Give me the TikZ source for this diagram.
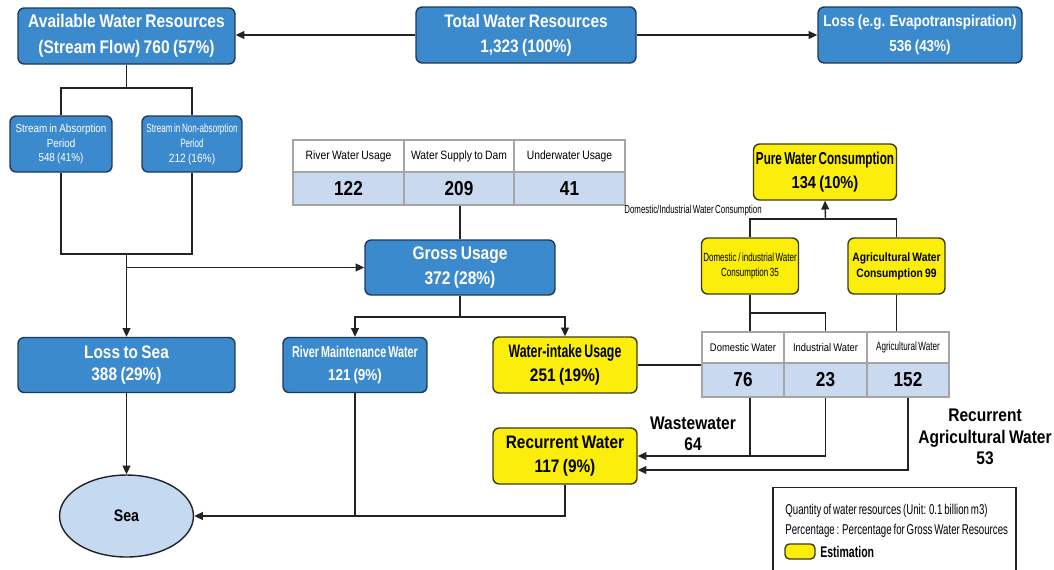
\documentclass[tikz,border=0pt]{standalone}
\usepackage{fontspec}
\setmainfont{Liberation Sans}
\newfontfamily\fB{Liberation Sans}[FakeStretch=0.85,WordSpace=0.8]
\newfontfamily\fC{Liberation Sans}[FakeStretch=0.68,WordSpace=0.7]
\usetikzlibrary{arrows.meta,shapes.geometric,calc}
\definecolor{blueF}{RGB}{60,138,206}
\definecolor{blueD}{RGB}{30,58,88}
\definecolor{yellowF}{RGB}{250,238,10}
\definecolor{yellowD}{RGB}{60,60,20}
\definecolor{tblue}{RGB}{201,218,240}
\definecolor{tgray}{RGB}{165,165,165}
\definecolor{seaF}{RGB}{197,217,241}
\definecolor{lineC}{RGB}{35,35,35}
\tikzset{
  rB/.style 2 args={font=\fB\fontsize{#1}{#2}\selectfont},
  rC/.style 2 args={font=\fC\fontsize{#1}{#2}\selectfont},
  bB/.style 2 args={font=\fB\bfseries\fontsize{#1}{#2}\selectfont},
  bC/.style 2 args={font=\fC\bfseries\fontsize{#1}{#2}\selectfont},
  bluebox/.style={draw=blueD, fill=blueF, rounded corners=3.5pt, line width=0.8pt, text=white, align=center, inner sep=0pt},
  ybox/.style={draw=yellowD, fill=yellowF, rounded corners=3.5pt, line width=0.8pt, text=black, align=center, inner sep=0pt},
  cellh/.style={draw=tgray, fill=white, line width=0.6pt, inner sep=0pt, align=center},
  cellv/.style={draw=tgray, fill=tblue, line width=0.6pt, inner sep=0pt, align=center},
  conn/.style={draw=lineC, line width=0.8pt},
  arr/.style={conn, -{Triangle[length=5pt,width=4.5pt]}},
  lbl/.style={inner sep=0pt, align=center, text=black},
}
\begin{document}
\begin{tikzpicture}[x=0.02cm,y=-0.02cm]
\useasboundingbox[fill=white] (0,0) rectangle (1054,569);

% top row
\node[bluebox, minimum width=4.34cm, minimum height=1.12cm, bB={10.4}{14.7}] (avail) at (126.5,36) {Available Water Resources\\(Stream Flow) 760 (57\%)};
\node[bluebox, minimum width=4.4cm, minimum height=1.12cm, bB={10.3}{14.2}] (total) at (526,35) {Total Water Resources\\1,323 (100\%)};
\node[bluebox, minimum width=4.08cm, minimum height=1.12cm, bB={9}{14.2}] (loss) at (920,35) {Loss (e.g. Evapotranspiration)\\536 (43\%)};

% stream boxes
\node[bluebox, minimum width=2.04cm, minimum height=1.12cm, rB={6.6}{8.5}] (sabs) at (61,144) {Stream in Absorption\\Period\\548 (41\%)};
\node[bluebox, minimum width=2.0cm, minimum height=1.12cm, rC={6.8}{8.5}] (snon) at (192,144) {Stream in Non-absorption\\Period\\{\fB 212 (16\%)}};

% table 1
\node[cellh, minimum width=2.22cm, minimum height=0.64cm, rB={6.9}{8}] (t1h1) at (348.5,156) {River Water Usage};
\node[cellh, minimum width=2.2cm, minimum height=0.64cm, rB={6.9}{8}] (t1h2) at (459,156) {Water Supply to Dam};
\node[cellh, minimum width=2.22cm, minimum height=0.64cm, rB={6.9}{8}] (t1h3) at (569.5,156) {Underwater Usage};
\node[cellv, minimum width=2.22cm, minimum height=0.66cm, bB={11.5}{13}] (t1v1) at (348.5,188.5) {122};
\node[cellv, minimum width=2.2cm, minimum height=0.66cm, bB={11.5}{13}] (t1v2) at (459,188.5) {209};
\node[cellv, minimum width=2.22cm, minimum height=0.66cm, bB={11.5}{13}] (t1v3) at (569.5,188.5) {41};

% gross usage
\node[bluebox, minimum width=3.8cm, minimum height=1.1cm, bB={10.4}{14.7}] (gross) at (460,267.5) {Gross Usage\\372 (28\%)};

% middle row
\node[bluebox, minimum width=4.34cm, minimum height=1.1cm, bB={10.3}{13}] (losssea) at (126.5,365) {Loss to Sea\\388 (29\%)};
\node[bluebox, minimum width=2.88cm, minimum height=1.1cm, bC={9}{13}] (rmw) at (355,365) {River Maintenance Water\\{\fB 121 (9\%)}};
\node[ybox, minimum width=2.88cm, minimum height=1.12cm, bC={10.3}{14}] (wiu) at (565,365) {Water-intake Usage\\{\fB 251 (19\%)}};
\node[ybox, minimum width=2.88cm, minimum height=1.12cm, bB={10.3}{13.6}] (rec) at (565,456) {Recurrent Water\\117 (9\%)};

% consumption
\node[ybox, minimum width=2.86cm, minimum height=1.12cm, bC={9.8}{14}] (pure) at (825,172) {Pure Water Consumption\\{\fB 134 (10\%)}};
\node[ybox, minimum width=1.94cm, minimum height=1.12cm, rC={6.7}{9}] (dic) at (750,266) {Domestic / industrial Water\\Consumption 35};
\node[ybox, minimum width=1.94cm, minimum height=1.12cm, bB={6.9}{9}] (awc) at (896.5,266) {Agricultural Water\\Consumption 99};

% table 2
\node[cellh, minimum width=1.64cm, minimum height=0.62cm, rB={6.3}{8}] (t2h1) at (743,347.5) {Domestic Water};
\node[cellh, minimum width=1.66cm, minimum height=0.62cm, rB={6.3}{8}] (t2h2) at (825.5,347.5) {Industrial Water};
\node[cellh, minimum width=1.64cm, minimum height=0.62cm, rC={6.8}{8}] (t2h3) at (908,347.5) {Agricultural Water};
\node[cellv, minimum width=1.64cm, minimum height=0.68cm, bB={11.5}{13}] (t2v1) at (743,380) {76};
\node[cellv, minimum width=1.66cm, minimum height=0.68cm, bB={11.5}{13}] (t2v2) at (825.5,380) {23};
\node[cellv, minimum width=1.64cm, minimum height=0.68cm, bB={11.5}{13}] (t2v3) at (908,380) {152};

% sea
\node[ellipse, draw=lineC, fill=seaF, line width=0.8pt, minimum width=2.68cm, minimum height=1.64cm, inner sep=0pt, bB={9.5}{11}] (sea) at (126.5,516) {Sea};

% labels
\node[lbl, rC={6.6}{8}] (dilabel) at (693,210) {Domestic/Industrial Water Consumption};
\node[lbl, bB={10.4}{12}] (wwlabel) at (693,434) {Wastewater\\64};
\node[lbl, bB={10.4}{12.4}] (ralabel) at (985,437) {Recurrent\\Agricultural Water\\53};

% legend
\node[draw=lineC, fill=white, line width=0.8pt, minimum width=4.86cm, minimum height=2.1cm, inner sep=0pt] (legend) at (894.5,540) {};
\node[lbl, anchor=west, rC={8.1}{10}] (lg1) at (785,511) {Quantity of water resources (Unit: 0.1 billion m3)};
\node[lbl, anchor=west, rC={8.1}{10}] (lg2) at (785,531) {Percentage : Percentage for Gross Water Resources};
\node[ybox, minimum width=0.6cm, minimum height=0.3cm, rounded corners=2.5pt] (lgbox) at (800,551.5) {};
\node[lbl, anchor=west, bC={8.8}{10}] (lg3) at (820,551.5) {Estimation};

% connectors
\draw[arr] (total.west) -- (total.west -| avail.east);
\draw[arr] (total.east) -- (loss.west);

\coordinate (j1) at (126.5,88);
\draw[conn] (avail.south) -- (j1);
\draw[conn] (sabs.north) |- (j1) -| (snon.north);

\coordinate (j2) at (126.5,254);
\draw[conn] (sabs.south) |- (j2) -| (snon.south);
\draw[arr] (j2) -- (losssea.north);
\coordinate (j3) at (126.5,267.5);
\draw[arr] (j3) -- (gross.west);

\draw[conn] (t1v2.south -| gross.north) -- (gross.north);
\coordinate (j4) at (460,317);
\draw[conn] (gross.south) -- (j4);
\draw[arr] (j4) -| (rmw.north);
\draw[arr] (j4) -| (wiu.north);

\draw[conn] (wiu.east) -- (wiu.east -| t2h1.west);

\coordinate (j5) at (825.5,219);
\draw[arr] (j5) -- (pure.south);
\draw[conn] (dic.north) |- (j5) -| (awc.north);

\coordinate (j6) at (750,313);
\draw[conn] (dic.south) -- (dic.south |- t2h1.north);
\draw[conn] (j6) -| (t2h2.north);
\draw[conn] (awc.south) -- (awc.south |- t2h3.north);

\coordinate (j7) at (750,456);
\draw[conn] (t2v1.south -| j7) -- (j7);
\draw[arr] (t2v2.south) |- (rec.east);
\draw[arr] (t2v3.south) |- ($(rec.east)+(0,14)$);

\draw[arr] (rec.south) |- (sea.east);
\draw[conn] (rmw.south) -- (rmw.south |- sea.east);
\draw[arr] (losssea.south) -- (sea.north);
\end{tikzpicture}
\end{document}
